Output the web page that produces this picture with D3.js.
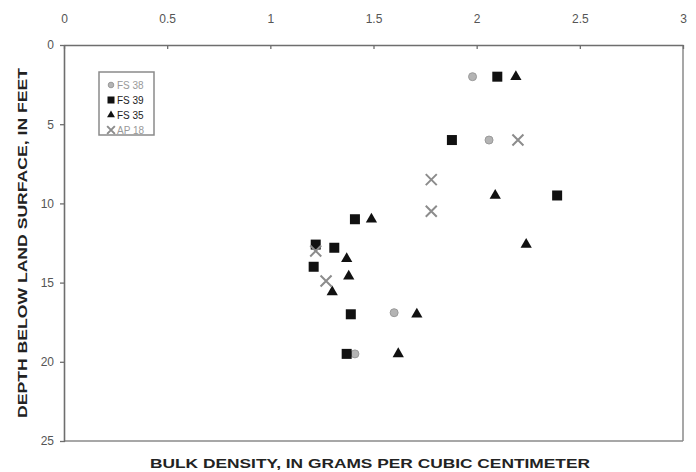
<!DOCTYPE html>
<html>
<head>
<meta charset="utf-8">
<script src="https://cdn.jsdelivr.net/npm/d3@7"></script>
<style>
  body { margin: 0; background: #fff; }
  text { font-family: "Liberation Sans", Arial, sans-serif; }
</style>
</head>
<body>
<div id="chart"></div>
<script type="text/javascript">
// data: bulk density (g/cm3) and depth (ft)
var fs38Density = [1.98, 2.06, 1.60, 1.41];
var fs38Depth   = [2.0, 6.0, 16.9, 19.5];

var fs39Density = [2.10, 1.88, 2.39, 1.41, 1.22, 1.31, 1.21, 1.39, 1.37];
var fs39Depth   = [2.0, 6.0, 9.5, 11.0, 12.6, 12.8, 14.0, 17.0, 19.5];

var fs35Density = [2.19, 2.09, 1.49, 2.24, 1.37, 1.38, 1.30, 1.71, 1.62];
var fs35Depth   = [2.0, 9.5, 11.0, 12.6, 13.5, 14.6, 15.6, 17.0, 19.5];

var ap18Density = [2.20, 1.78, 1.78, 1.22, 1.27];
var ap18Depth   = [6.0, 8.5, 10.5, 13.0, 14.9];

var xTicks = [0, 0.5, 1, 1.5, 2, 2.5, 3];
var xTickLabels = ["0", "0.5", "1", "1.5", "2", "2.5", "3"];
var yTicks = [0, 5, 10, 15, 20, 25];
var seriesNames = ["FS 38", "FS 39", "FS 35", "AP 18"];

var margin = {top: 45, right: 13, bottom: 31, left: 64},
    width = 696 - margin.left - margin.right,
    height = 472 - margin.top - margin.bottom;

var x = d3.scaleLinear().domain([0, 3]).range([0, width]);
var y = d3.scaleLinear().domain([0, 25]).range([0, height]);

var svg = d3.select("#chart").append("svg")
    .attr("width", 696)
    .attr("height", 472);

var g = svg.append("g")
    .attr("transform", "translate(" + margin.left + "," + margin.top + ")");

var axisColor = "#6e6e6e";

// frame: right and bottom edges
g.append("line").attr("x1", width).attr("x2", width).attr("y1", 0).attr("y2", height)
    .attr("stroke", "#8a8a8a").attr("stroke-width", 1.5);
g.append("line").attr("x1", 0).attr("x2", width).attr("y1", height).attr("y2", height)
    .attr("stroke", "#8a8a8a").attr("stroke-width", 1.5);

// top axis
var xAxis = g.append("g")
    .call(d3.axisTop(x).tickValues(xTicks).tickFormat(function(d, i) { return xTickLabels[i]; })
      .tickSizeInner(-4).tickSizeOuter(0).tickPadding(22));

// left axis
var yAxis = g.append("g")
    .call(d3.axisLeft(y).tickValues(yTicks).tickSizeInner(4).tickSizeOuter(0).tickPadding(6));

[xAxis, yAxis].forEach(function(a) {
  a.select(".domain").attr("stroke", axisColor).attr("stroke-width", 1.6);
  a.selectAll(".tick line").attr("stroke", axisColor).attr("stroke-width", 1.3);
  a.selectAll(".tick text").attr("fill", "#555").style("font-size", "12px");
});
// left ticks cross the axis a little
yAxis.selectAll(".tick line").attr("x1", 1);

// marker helpers
function drawSeries(dens, dep, kind) {
  var pts = dens.map(function(d, i) { return {x: d, y: dep[i]}; });
  var sel = g.append("g").selectAll("g").data(pts).enter().append("g")
      .attr("transform", function(d) { return "translate(" + x(d.x) + "," + y(d.y) + ")"; });
  drawMarker(sel, kind, 1);
}

function drawMarker(sel, kind, s) {
  if (kind === "circle") {
    sel.append("circle").attr("r", 4 * s).attr("fill", "#b4b4b4")
      .attr("stroke", "#9a9a9a").attr("stroke-width", 1);
  } else if (kind === "square") {
    sel.append("rect").attr("x", -5 * s).attr("y", -5 * s)
      .attr("width", 10 * s).attr("height", 10 * s).attr("fill", "#111");
  } else if (kind === "triangle") {
    sel.append("path").attr("d", d3.symbol().type(d3.symbolTriangle).size(55 * s * s))
      .attr("fill", "#111");
  } else {
    var r = 5.5 * s;
    sel.append("path").attr("d", "M" + (-r) + "," + (-r) + "L" + r + "," + r + "M" + (-r) + "," + r + "L" + r + "," + (-r))
      .attr("stroke", "#8c8c8c").attr("stroke-width", 2).attr("fill", "none");
  }
}

drawSeries(fs38Density, fs38Depth, "circle");
drawSeries(fs39Density, fs39Depth, "square");
drawSeries(fs35Density, fs35Depth, "triangle");
drawSeries(ap18Density, ap18Depth, "x");

// legend
var kinds = ["circle", "square", "triangle", "x"];
var legend = svg.append("g").attr("transform", "translate(99,72)");
legend.append("rect").attr("width", 55).attr("height", 63)
  .attr("fill", "#fff").attr("stroke", "#8a8a8a").attr("stroke-width", 1.5);
var items = legend.selectAll(".item").data(seriesNames).enter().append("g")
  .attr("class", "item")
  .attr("transform", function(d, i) { return "translate(12," + (13 + i * 15) + ")"; });
items.each(function(d, i) { drawMarker(d3.select(this), kinds[i], 0.7); });
items.append("text").attr("x", 6).attr("y", 4)
  .style("font-size", "10px")
  .attr("fill", function(d, i) { return (i === 0 || i === 3) ? "#999" : "#222"; })
  .text(function(d) { return d; });

// axis titles
svg.append("text")
  .attr("x", 370).attr("y", 468)
  .attr("text-anchor", "middle")
  .attr("textLength", 440).attr("lengthAdjust", "spacingAndGlyphs")
  .style("font-size", "13px").style("font-weight", "bold").attr("fill", "#222")
  .text("BULK DENSITY, IN GRAMS PER CUBIC CENTIMETER");

svg.append("text")
  .attr("transform", "translate(27,243) rotate(-90)")
  .attr("text-anchor", "middle")
  .attr("textLength", 350).attr("lengthAdjust", "spacingAndGlyphs")
  .style("font-size", "13px").style("font-weight", "bold").attr("fill", "#222")
  .text("DEPTH BELOW LAND SURFACE, IN FEET");
</script>
</body>
</html>
